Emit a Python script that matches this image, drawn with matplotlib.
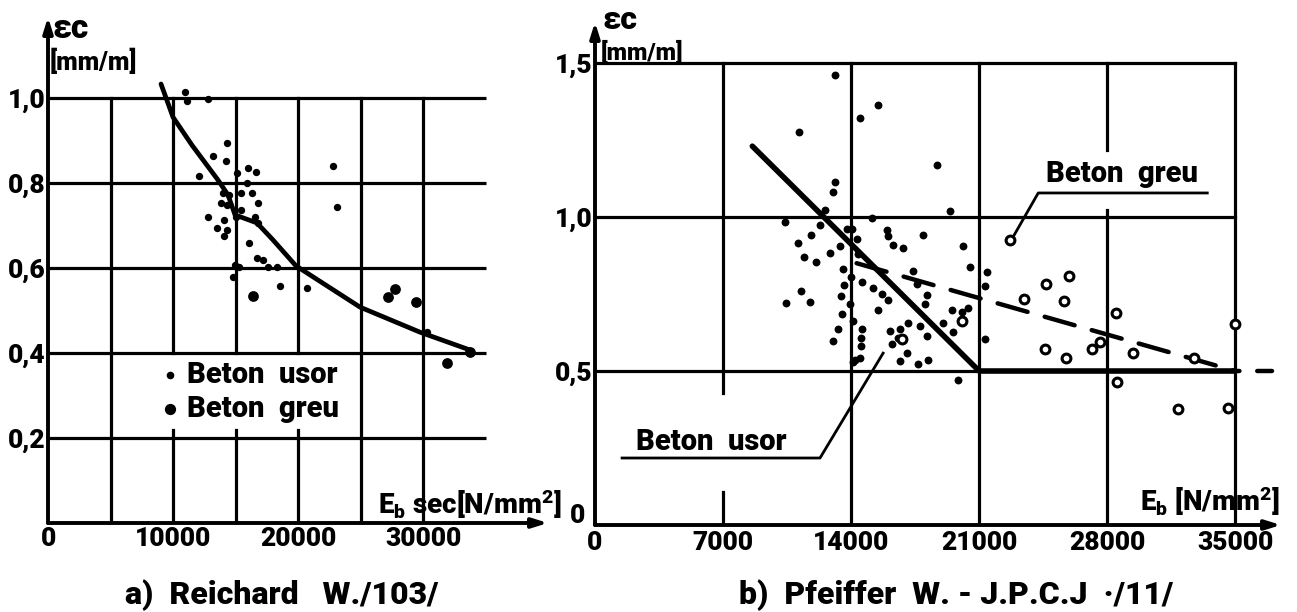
import matplotlib
matplotlib.use('Agg')
import matplotlib.pyplot as plt

W, H = 1297, 612

FONT = ['Roboto', 'DejaVu Sans']
plt.rcParams['font.family'] = FONT
plt.rcParams['font.weight'] = 'heavy'
plt.rcParams['mathtext.fontset'] = 'custom'
plt.rcParams['mathtext.rm'] = 'Roboto:heavy'
plt.rcParams['mathtext.it'] = 'Roboto:heavy'
plt.rcParams['mathtext.bf'] = 'Roboto:heavy'

# ---------------- data: panel a) Reichard ----------------
left_xticks = [0, 10000, 20000, 30000]
left_xticklabels = ['0', '10000', '20000', '30000']
left_xgrid = [5000, 10000, 15000, 20000, 25000, 30000]
left_ygrid = [0.2, 0.4, 0.6, 0.8, 1.0]
left_yticklabels = ['0,2', '0,4', '0,6', '0,8', '1,0']

left_usor_x = [10960, 11120, 12800, 14320, 13200, 14240, 12080, 15120, 16000, 16640,
               15920, 14000, 14480, 15440, 16320, 16800, 13840, 14320, 15440, 12800,
               14080, 13520, 14320, 15040, 16560, 16800, 14080, 16080, 16720, 17200,
               14960, 15280, 17600, 18320, 14800, 18560, 20720, 30320, 22800, 23120]
left_usor_y = [1.014, 0.993, 0.998, 0.894, 0.864, 0.852, 0.816, 0.824, 0.835, 0.826,
               0.800, 0.776, 0.772, 0.776, 0.776, 0.753, 0.753, 0.748, 0.736, 0.720,
               0.713, 0.694, 0.689, 0.720, 0.720, 0.706, 0.675, 0.659, 0.624, 0.619,
               0.607, 0.602, 0.602, 0.602, 0.579, 0.558, 0.553, 0.449, 0.840, 0.744]

left_greu_x = [16400, 27760, 27200, 29440, 31920, 33760]
left_greu_y = [0.534, 0.551, 0.532, 0.520, 0.376, 0.402]

left_curve_x = [9040, 10000, 11520, 13600, 14400, 14960, 16720, 18000, 19840, 24960, 29760, 33760]
left_curve_y = [1.033, 0.955, 0.889, 0.807, 0.772, 0.725, 0.706, 0.666, 0.605, 0.508, 0.449, 0.407]

# ---------------- data: panel b) Pfeiffer ----------------
right_xticks = [0, 7000, 14000, 21000, 28000, 35000]
right_xticklabels = ['0', '7000', '14000', '21000', '28000', '35000']
right_yticks = [0.5, 1.0, 1.5]
right_yticklabels = ['0,5', '1,0', '1,5']

right_usor_x = [13125, 15477, 14493, 11157, 18704, 13125, 13016, 12579, 19415, 10391,
                12305, 15149, 17938, 15969, 16024, 16298, 16845, 20126, 11813, 11102,
                11430, 12086, 12852, 13399, 13563, 20509, 21438, 21329, 11266, 10446,
                11758, 13618, 13454, 13509, 13290, 13016, 14000, 13946, 14110, 14220,
                13782, 14329, 14602, 15204, 15696, 16024, 15477, 16133, 16680, 16571,
                16243, 17063, 16680, 17118, 17774, 18157, 17665, 18212, 18157, 18048,
                17610, 17392, 19524, 20071, 20399, 19032, 19579, 21329, 19852, 14602,
                14548, 14548, 14493, 14110, 14055, 14384]
right_usor_y = [1.461, 1.365, 1.323, 1.277, 1.168, 1.113, 1.081, 1.023, 1.019, 0.984,
                0.975, 0.997, 0.943, 0.959, 0.937, 0.908, 0.899, 0.905, 0.940, 0.915,
                0.870, 0.854, 0.883, 0.905, 0.832, 0.839, 0.820, 0.775, 0.759, 0.722,
                0.725, 0.778, 0.744, 0.684, 0.636, 0.598, 0.804, 0.718, 0.661, 0.535,
                0.962, 0.930, 0.788, 0.769, 0.750, 0.731, 0.699, 0.630, 0.636, 0.608,
                0.589, 0.557, 0.532, 0.655, 0.646, 0.614, 0.522, 0.535, 0.747, 0.718,
                0.782, 0.826, 0.699, 0.693, 0.703, 0.655, 0.627, 0.604, 0.470, 0.636,
                0.608, 0.582, 0.541, 0.528, 0.962, 0.880]

right_greu_x = [22696, 25923, 24665, 23462, 25650, 28494, 35000, 24610, 25759, 27181,
                27618, 29423, 32759, 28549, 31884, 34619, 16790, 20071]
right_greu_y = [0.924, 0.807, 0.782, 0.734, 0.728, 0.687, 0.652, 0.573, 0.541, 0.573,
                0.595, 0.560, 0.541, 0.463, 0.376, 0.379, 0.604, 0.661]

right_solid_x = [8600, 21000, 35000]
right_solid_y = [1.23, 0.5, 0.5]
right_dash_x = [14300, 35000, 37000]
right_dash_y = [0.85, 0.5, 0.5]

# ---------------- figure ----------------
fig = plt.figure(figsize=(W / 100, H / 100), dpi=100)
fig.patch.set_facecolor('white')

def fx(px):
    return px / W

def fy(py):
    return 1 - py / H

GRID_LW = 2.3
AX_LW = 2.8
TICK_FS = 19
LBL_FS = 21

def setup(ax):
    for s in ax.spines.values():
        s.set_visible(False)
    ax.tick_params(length=0, labelsize=TICK_FS)
    ax.set_facecolor('none')
    arrow = dict(arrowstyle='-|>,head_length=0.9,head_width=0.28', lw=AX_LW,
                 color='black', shrinkA=0, shrinkB=0)
    ax.annotate('', xy=(1, 0), xycoords='axes fraction', xytext=(0, 0),
                textcoords='axes fraction', arrowprops=arrow)
    ax.annotate('', xy=(0, 1), xycoords='axes fraction', xytext=(0, 0),
                textcoords='axes fraction', arrowprops=arrow)

# ---- left panel ----
axL = fig.add_axes([fx(48), fy(523), 500 / W, 506 / H])
axL.set_xlim(0, 40000)
axL.set_ylim(0, 506 / 425)
setup(axL)
xmaxL = 35000
for yg in left_ygrid:
    axL.plot([0, xmaxL], [yg, yg], color='black', lw=GRID_LW, solid_capstyle='butt', zorder=1)
legend_gap_lines = [10000, 15000, 20000]
for xg in left_xgrid:
    if xg in legend_gap_lines:
        axL.plot([xg, xg], [0, 0.22], color='black', lw=GRID_LW, zorder=1)
        axL.plot([xg, xg], [0.40, left_ygrid[-1]], color='black', lw=GRID_LW, zorder=1)
    else:
        axL.plot([xg, xg], [0, left_ygrid[-1]], color='black', lw=GRID_LW, zorder=1)
axL.plot(left_curve_x, left_curve_y, color='black', lw=3.4, zorder=3,
         solid_capstyle='round', solid_joinstyle='round')
axL.scatter(left_usor_x, left_usor_y, s=28, color='black', zorder=4, linewidths=0)
axL.scatter(left_greu_x, left_greu_y, s=60, color='black', zorder=4, linewidths=0)
axL.set_xticks(left_xticks, left_xticklabels)
axL.set_yticks(left_ygrid, left_yticklabels)
axL.tick_params(axis='x', pad=3)
axL.tick_params(axis='y', pad=2)
# legend
axL.scatter([0.244], [0.2925], s=20, color='black', transform=axL.transAxes, clip_on=False, zorder=5)
axL.scatter([0.244], [0.225], s=50, color='black', transform=axL.transAxes, clip_on=False, zorder=5)
axL.text(0.278, 0.2925, 'Beton  usor', transform=axL.transAxes, fontsize=LBL_FS,
         va='center', ha='left')
axL.text(0.278, 0.225, 'Beton  greu', transform=axL.transAxes, fontsize=LBL_FS,
         va='center', ha='left')

# ---- right panel ----
axR = fig.add_axes([fx(595), fy(525), 686 / W, 503 / H])
axR.set_xlim(0, 37500)
axR.set_ylim(0, 503 / 308)
setup(axR)
xmaxR = right_xticks[-1]
for yg in right_yticks:
    axR.plot([0, xmaxR], [yg, yg], color='black', lw=GRID_LW, zorder=1)
label_gaps = {7000: (0.107, 0.43), 28000: (1.023, 1.218)}
for xg in right_xticks[1:]:
    if xg in label_gaps:
        lo, hi = label_gaps[xg]
        axR.plot([xg, xg], [0, lo], color='black', lw=GRID_LW, zorder=1)
        axR.plot([xg, xg], [hi, right_yticks[-1]], color='black', lw=GRID_LW, zorder=1)
    else:
        axR.plot([xg, xg], [0, right_yticks[-1]], color='black', lw=GRID_LW, zorder=1)
axR.plot(right_solid_x, right_solid_y, color='black', lw=4.0, zorder=3,
         solid_capstyle='round')
# dashed line: sloped part and its continuation beyond 35000 (starting with a gap)
axR.plot(right_dash_x[:2], right_dash_y[:2], color='black', lw=3.2, zorder=3,
         linestyle=(0, (7, 4)), dash_capstyle='round')
axR.plot(right_dash_x[1:], right_dash_y[1:], color='black', lw=3.2, zorder=3,
         linestyle=(6, (7, 4)), dash_capstyle='round', clip_on=False)
axR.scatter(right_usor_x, right_usor_y, s=32, color='black', zorder=4, linewidths=0)
axR.scatter(right_greu_x, right_greu_y, s=40, facecolor='white', edgecolor='black',
            linewidths=2.2, zorder=4)
axR.set_xticks(right_xticks, right_xticklabels)
axR.set_yticks(right_yticks, right_yticklabels)
axR.tick_params(axis='x', pad=4)
axR.tick_params(axis='y', pad=2)
axR.text(-0.026, 0.018, '0', transform=axR.transAxes, fontsize=TICK_FS, ha='center', va='center')

# annotations right panel
axR.text(28820, 1.14, 'Beton  greu', fontsize=LBL_FS, ha='center', va='center', zorder=5)
axR.plot([33470, 24230, 22900], [1.078, 1.078, 0.94], color='black', lw=2.0, zorder=5)
axR.text(6340, 0.27, 'Beton  usor', fontsize=LBL_FS, ha='center', va='center', zorder=5)
axR.plot([1480, 12300, 15750], [0.2175, 0.2175, 0.558], color='black', lw=2.0, zorder=5)

# axis titles
fig.text(fx(52), fy(29), 'εc', fontsize=24, ha='left', va='center')
fig.text(fx(50), fy(62), '[mm/m]', fontsize=18, ha='left', va='center')
fig.text(fx(378), fy(504), r'E$_\mathregular{b}$ sec[N/mm$^\mathregular{2}$]', fontsize=20, ha='left', va='center')

fig.text(fx(602), fy(20), 'εc', fontsize=23, ha='left', va='center')
fig.text(fx(601), fy(53), '[mm/m]', fontsize=17, ha='left', va='center')
fig.text(fx(1140), fy(501), r'E$_\mathregular{b}$ [N/mm$^\mathregular{2}$]', fontsize=20, ha='left', va='center')

# captions
fig.text(fx(282), fy(595), 'a)  Reichard   W./103/', fontsize=23, ha='center', va='center')
fig.text(fx(956), fy(595), 'b)  Pfeiffer  W. - J.P.C.J  ·/11/', fontsize=23, ha='center', va='center')

fig.savefig('out.png', dpi=100, facecolor='white')
